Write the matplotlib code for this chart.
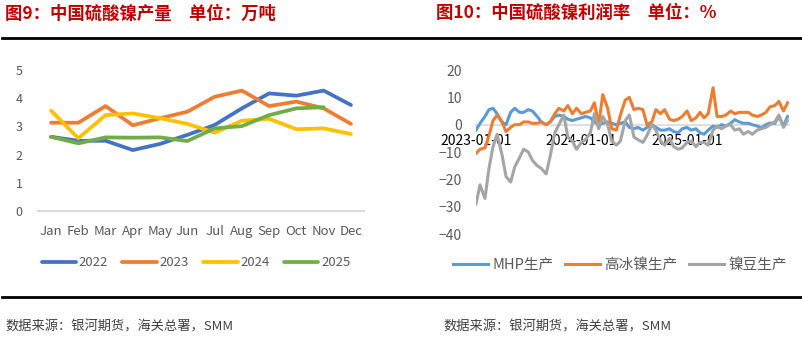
import matplotlib
matplotlib.use("Agg")
import matplotlib.pyplot as plt
from matplotlib.lines import Line2D
import pandas as pd

plt.rcParams['font.family'] = ['Noto Sans CJK SC', 'DejaVu Sans']

W, H = 802, 337

# monthly nickel sulphate output, 10k t
months = ['Jan', 'Feb', 'Mar', 'Apr', 'May', 'Jun',
          'Jul', 'Aug', 'Sep', 'Oct', 'Nov', 'Dec']
out_2022 = [2.63, 2.49, 2.49, 2.16, 2.38, 2.70, 3.05, 3.64, 4.17, 4.09, 4.27, 3.76]
out_2023 = [3.13, 3.13, 3.72, 3.04, 3.29, 3.52, 4.05, 4.27, 3.72, 3.88, 3.64, 3.09]
out_2024 = [3.56, 2.58, 3.40, 3.46, 3.29, 3.09, 2.78, 3.20, 3.27, 2.90, 2.93, 2.73]
out_2025 = [2.63, 2.40, 2.61, 2.60, 2.61, 2.48, 2.93, 3.01, 3.40, 3.64, 3.68]

# margin by feedstock, %, semi-monthly from 2023-01
margin_dates = pd.date_range('2023-01-01', periods=72, freq='SMS')
mhp = [-2, 0.5, 3, 5.5, 6, 4, 1, 0, 4.5, 6, 4.5, 4.5, 5.5, 5,
       3, 1, 0, 1, 3, 3.5, 3, 2, 1.5, 2, 2.5, 3, 2.5, 1, 0, 0.5,
       1, 0.5, 0, 0.5, 1, -1, -1.5, -1, -2, -1, 0, -1, -2, -2, -1.5, -2.5,
       -3, -1.5, -1, -2, -1.5, -3, -3.5, -2, -0.5, -1, 0, -0.5, 0.5, 1.8,
       1, 0.5, 0.5, 0, -0.5, -1.2, 0, 0.6, 0.5, 3, -0.5, 3]
matte = [-10.5, -9, -8.5, -4, 1.5, 3.5, 1, -2.5, -1, 0, 0, 1, 1, 0.5,
         0.5, 1, 0, 1, 4, 6, 5, 7, 4, 6, 4, 4.5, 5, 8, 0,
         11, 6, -1.5, -2, 3.5, 9, 10, 5.5, 6, 5.5, 0, 1, 5.5,
         4, 5.5, 2, 1.5, 2, 3, 5, 1.5, 2.5, 4.5, 2.5, 4, 13.5, 3, 3, 3.5,
         5, 4, 4.5, 4.5, 4.5, 3.5, 3, 3.5, 4.5, 6.5, 7, 8.5, 5, 8]
briquette = [-29, -22, -27, -16, -8, -3.5, -11, -19, -21, -15.5, -12, -9, -10, -13,
             -15, -16, -18, -11.5, -3, 0, 3.5, -4.5, -6, -9, -6.5, -5.5, -3, 4, -1.5, 3,
             0, -6, -7.5, -6, 1.5, 3.5, -4.5, -5.5, -6.5, -4, 0, -2,
             -6, -7.5, -5, -8, -9, -8.5, -6.5, -6, -8, -6.5, -6.5, -7.5, -2, -0.5, -1.5,
             -0.5, 0, -2, -1.5, -3.5, -2.5, -3.5, -2, -1.5, -1, 0, 1, 3.5, -1, 1.5]

red = '#C00000'
grey_txt = '#595959'


def px_axes(fig, x0, x1, ytop, ybot):
    return fig.add_axes([x0 / W, 1 - ybot / H, (x1 - x0) / W, (ybot - ytop) / H])


fig = plt.figure(figsize=(W / 100, H / 100), dpi=100)

# left panel: output
ax = px_axes(fig, 38, 364, 70, 211)
x = list(range(12))
ax.plot(x, out_2022, color='#4472C4', lw=2.7, label='2022', solid_capstyle='round')
ax.plot(x, out_2023, color='#ED7D31', lw=2.7, label='2023', solid_capstyle='round')
ax.plot(x, out_2024, color='#FFC000', lw=2.7, label='2024', solid_capstyle='round')
ax.plot(x[:len(out_2025)], out_2025, color='#70AD47', lw=2.7, label='2025',
        solid_capstyle='round')
ax.set_xlim(-0.48, 11.48)
ax.set_ylim(0, 5)
ax.set_yticks(range(6))
ax.set_xticks(x)
ax.set_xticklabels(months)
for s in ['top', 'right', 'left']:
    ax.spines[s].set_visible(False)
ax.spines['bottom'].set_color('#D9D9D9')
ax.spines['bottom'].set_linewidth(1.5)
ax.tick_params(axis='y', length=0, pad=11, labelsize=9, labelcolor=grey_txt)
ax.tick_params(axis='x', length=0, pad=10, labelsize=9.5, labelcolor=grey_txt)
leg = ax.legend(loc='center', bbox_to_anchor=(196 / W, 1 - 263 / H),
                bbox_transform=fig.transFigure, ncol=4, frameon=False,
                handlelength=2.6, handletextpad=0.2, columnspacing=1.1,
                fontsize=9.5)
for t in leg.get_texts():
    t.set_color(grey_txt)

# right panel: margins
ax2 = px_axes(fig, 476, 789, 70, 234)
ax2.plot(margin_dates, mhp, color='#5B9BD5', lw=2.2, label='MHP生产')
ax2.plot(margin_dates, matte, color='#ED7D31', lw=2.2, label='高冰镍生产')
ax2.plot(margin_dates, briquette, color='#A5A5A5', lw=2.2, label='镍豆生产')
ax2.set_ylim(-40, 20)
ax2.set_xlim(pd.Timestamp('2023-01-01'), pd.Timestamp('2025-12-20'))
ax2.set_yticks(range(-40, 21, 10))
ticks = pd.to_datetime(['2023-01-01', '2024-01-01', '2025-01-01'])
ax2.set_xticks(ticks)
ax2.set_xticklabels([d.strftime('%Y-%m-%d') for d in ticks],
                    family='Liberation Serif', fontsize=12.5, color=grey_txt)
for s in ['top', 'right', 'left']:
    ax2.spines[s].set_visible(False)
ax2.spines['bottom'].set_position(('data', 0))
ax2.spines['bottom'].set_color('#D9D9D9')
ax2.spines['bottom'].set_linewidth(1.2)
ax2.spines['bottom'].set_zorder(0)
ax2.tick_params(axis='y', length=0, pad=10, labelsize=10, labelcolor=grey_txt)
ax2.tick_params(axis='x', length=0, pad=7)
leg2 = ax2.legend(loc='center', bbox_to_anchor=(620 / W, 1 - 265 / H),
                  bbox_transform=fig.transFigure, ncol=3, frameon=False,
                  handlelength=2.4, handletextpad=0.3, columnspacing=0.8,
                  fontsize=10.5)
for t in leg2.get_texts():
    t.set_color(grey_txt)

# titles, rules and source notes
fig.text(5 / W, 1 - 14 / H, '图9：中国硫酸镍产量\u3000单位：万吨', color=red,
         fontsize=12.5, fontweight='bold', va='center', ha='left')
fig.text(436 / W, 1 - 13 / H, '图10：中国硫酸镍利润率\u3000单位：%', color=red,
         fontsize=12.5, fontweight='bold', va='center', ha='left')
for yy in (38, 297):
    fig.add_artist(Line2D([2 / W, 1], [1 - yy / H] * 2, color='black', lw=2))
fig.text(5 / W, 1 - 327 / H, '数据来源：银河期货，海关总署，SMM', color='#404040',
         fontsize=9.5, va='center', ha='left')
fig.text(443 / W, 1 - 327 / H, '数据来源：银河期货，海关总署，SMM', color='#404040',
         fontsize=9.5, va='center', ha='left')

fig.savefig('out.png', dpi=100)
